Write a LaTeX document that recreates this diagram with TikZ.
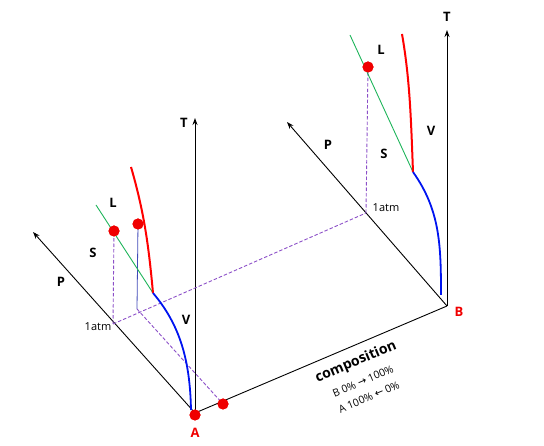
\documentclass[tikz,border=0pt]{standalone}
\usepackage{fontspec}
\setmainfont{Open Sans}
\newfontfamily\symfont{DejaVu Sans}
\usetikzlibrary{arrows.meta}
\definecolor{dotred}{RGB}{240,0,0}
\definecolor{dashpurple}{RGB}{140,80,200}
\definecolor{lgreen}{RGB}{30,180,90}
\definecolor{cblue}{RGB}{0,20,240}
\tikzset{
  axis/.style={black, line width=0.9pt, -{Stealth[length=7pt,width=5pt]}},
  baseline/.style={black, line width=0.9pt},
  dashl/.style={dashpurple, dash pattern=on 3.5pt off 2pt, line width=0.9pt},
  dotnode/.style={circle, fill=dotred, inner sep=0pt, minimum size=11pt},
  lbl/.style={font=\bfseries\fontsize{13}{15}\selectfont},
  small/.style={font=\fontsize{11}{13}\selectfont},
  redc/.style={red, line width=2pt},
  bluec/.style={cblue, line width=1.8pt},
  greenl/.style={lgreen, line width=0.9pt}
}
\begin{document}
\begin{tikzpicture}[x=1pt,y=-1pt]
\useasboundingbox (0,0) rectangle (544,446);
% base points
\coordinate (A) at (195,413);
\coordinate (B) at (447,306);
\coordinate (TA) at (195,118);
\coordinate (TB) at (447,30);
\coordinate (PA) at (33,232);
\coordinate (PB) at (287,122);
\coordinate (atmA) at (113,324);
\coordinate (atmB) at (366,213);
\coordinate (vline) at (137,309);
% axes
\draw[baseline] (A) -- (B);
\draw[axis] (A) -- (TA);
\draw[axis] (B) -- (TB);
\draw[axis] (A) -- (PA);
\draw[axis] (B) -- (PB);
% dashed lines
\draw[dashl] (atmA) -- (atmB);
\node[dotnode] (dA1) at (114,231) {};
\node[dotnode] (dB1) at (368,67) {};
\node[dotnode] (dA2) at (138,224) {};
\node[dotnode] (dA3) at (223,404) {};
\node[dotnode] (dA0) at (195,415) {};
\draw[dashl] (atmA) -- (dA1.center);
\draw[dashl] (atmB) -- (dB1.center);
\draw[dashl] (vline) -- (dA3.center);
\draw[cblue!50!gray, line width=0.8pt] (dA2.center) -- (vline);
% left phase curves
\coordinate (triA) at (153,293);
\draw[greenl] (96,205) -- (triA);
\draw[redc] (131,167) .. controls (145,215) and (149,250) .. (triA);
\draw[bluec] (triA) .. controls (180,325) and (190,360) .. (191,410);
% right phase curves
\coordinate (triB) at (413,172);
\draw[greenl] (350,35) -- (triB);
\draw[redc] (402,34) .. controls (410,80) and (411,120) .. (triB);
\draw[bluec] (triB) .. controls (440,210) and (441,245) .. (441,295);
% dots on top
\node[dotnode] at (114,231) {};
\node[dotnode] at (368,67) {};
\node[dotnode] at (138,224) {};
\node[dotnode] at (223,404) {};
\node[dotnode] at (195,415) {};
% labels
\node[lbl] (lT1) at (184,123) {T};
\node[lbl] (lT2) at (447,17) {T};
\node[lbl] (lP1) at (61,282) {P};
\node[lbl] (lP2) at (328,145) {P};
\node[small] (atm1) at (98,327) {1atm};
\node[small] (atm2) at (386,208) {1atm};
\node[lbl] (lL1) at (113,203) {L};
\node[lbl] (lS1) at (93,253) {S};
\node[lbl] (lV1) at (186,320) {V};
\node[lbl] (lL2) at (381,50) {L};
\node[lbl] (lS2) at (384,154) {S};
\node[lbl] (lV2) at (431,131) {V};
\node[lbl, text=dotred] (lA) at (195,433) {A};
\node[lbl, text=dotred] (lB) at (459,312) {B};
\node[font=\bfseries\fontsize{14}{16}\selectfont, rotate=23, inner sep=0pt] (comp) at (356,362) {composition};
\node[font=\fontsize{10.5}{12}\selectfont, rotate=23, inner sep=0pt] (c1) at (363,381) {B 0\% {\symfont →} 100\%};
\node[font=\fontsize{10.5}{12}\selectfont, rotate=23, inner sep=0pt] (c2) at (369,397) {A 100\% {\symfont ←} 0\%};
\end{tikzpicture}
\end{document}
